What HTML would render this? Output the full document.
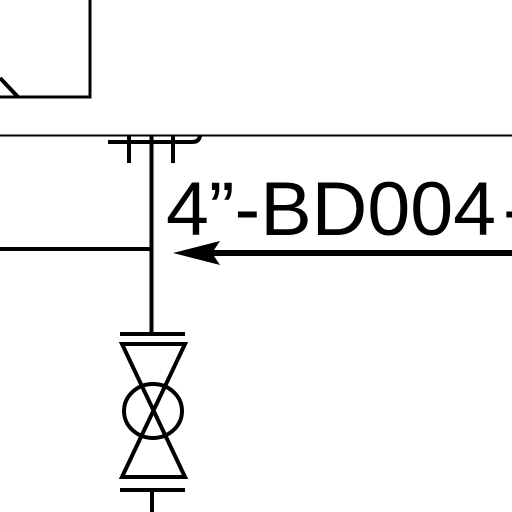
<!DOCTYPE html>
<html>
<head>
<meta charset="utf-8">
<style>
html,body{margin:0;padding:0;background:#fff;width:512px;height:512px;overflow:hidden}
svg{display:block}
</style>
</head>
<body>
<svg width="512" height="512" viewBox="0 0 512 512" xmlns="http://www.w3.org/2000/svg">
  <g stroke="#000" fill="none" stroke-linecap="butt">
    <path d="M90 0 V97 H0" stroke-width="3"/>
    <path d="M0 78 L18 97" stroke-width="4"/>
    <line x1="0" y1="135.5" x2="512" y2="135.5" stroke-width="2"/>
    <path d="M108 142 H192 Q199 142 200 136" stroke-width="4"/>
    <line x1="129" y1="136" x2="129" y2="163" stroke-width="4"/>
    <line x1="173" y1="136" x2="173" y2="163" stroke-width="4"/>
    <line x1="151.5" y1="135" x2="151.5" y2="334" stroke-width="4"/>
    <line x1="0" y1="249" x2="151" y2="249" stroke-width="4"/>
    <line x1="195" y1="253" x2="512" y2="253" stroke-width="6"/>
    <line x1="120" y1="334" x2="185" y2="334" stroke-width="4"/>
    <path d="M122 344 H185 L122 477 H185 Z" stroke-width="4" stroke-linejoin="miter"/>
    <ellipse cx="153" cy="411" rx="29" ry="27" stroke-width="4"/>
    <line x1="120" y1="490" x2="185" y2="490" stroke-width="4"/>
    <line x1="152" y1="490" x2="152" y2="512" stroke-width="4"/>
  </g>
  <path d="M173 253 L220 241 L212 253 L220 265 Z" fill="#000"/>
  <text x="166" y="235" font-family="Liberation Sans, sans-serif" font-size="76" textLength="330" lengthAdjust="spacingAndGlyphs" fill="#000">4”-BD004</text>
  <text x="503" y="235" font-family="Liberation Sans, sans-serif" font-size="76" fill="#000">-</text>
</svg>
</body>
</html>
